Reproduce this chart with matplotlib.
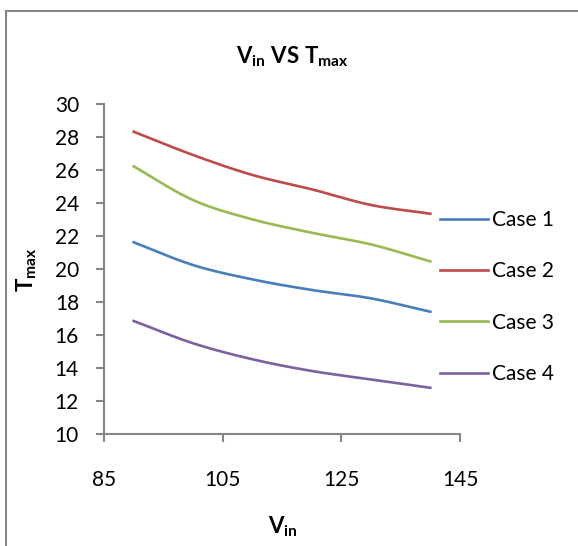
import matplotlib
matplotlib.use('Agg')
import matplotlib.pyplot as plt
from matplotlib.patches import Rectangle
import numpy as np

plt.rcParams['font.family'] = ['Lato', 'DejaVu Sans']
plt.rcParams['mathtext.fontset'] = 'custom'
plt.rcParams['mathtext.rm'] = 'Lato'
plt.rcParams['mathtext.bf'] = 'Lato:bold'

vin = [90, 100, 110, 120, 130, 140]
case1 = [21.62, 20.24, 19.37, 18.73, 18.22, 17.41]
case2 = [28.32, 26.91, 25.70, 24.83, 23.88, 23.35]
case3 = [26.22, 24.18, 23.01, 22.20, 21.49, 20.46]
case4 = [16.85, 15.50, 14.53, 13.82, 13.31, 12.80]
labels = ['Case 1', 'Case 2', 'Case 3', 'Case 4']
colors = ['#4A7EBB', '#BE4B48', '#98B954', '#7D60A0']


def smooth(x, y, n=30):
    # catmull-rom curve through the points, like excel's smoothed line
    x = np.asarray(x, float)
    y = np.asarray(y, float)
    px = np.concatenate([[2 * x[0] - x[1]], x, [2 * x[-1] - x[-2]]])
    py = np.concatenate([[2 * y[0] - y[1]], y, [2 * y[-1] - y[-2]]])
    xs, ys = [], []
    t = np.linspace(0, 1, n)
    for i in range(1, len(px) - 2):
        for p, out in ((px, xs), (py, ys)):
            p0, p1, p2, p3 = p[i - 1], p[i], p[i + 1], p[i + 2]
            out.extend(0.5 * ((2 * p1) + (-p0 + p2) * t
                              + (2 * p0 - 5 * p1 + 4 * p2 - p3) * t ** 2
                              + (-p0 + 3 * p1 - 3 * p2 + p3) * t ** 3))
    return xs, ys


fig = plt.figure(figsize=(5.78, 5.46), dpi=100)
fig.patches.append(Rectangle((6 / 578, -0.1), 1.2, (546 - 11) / 546 + 0.1,
                             transform=fig.transFigure, fill=False,
                             edgecolor='#868686', linewidth=1.5))

ax = fig.add_axes([104 / 578, 112 / 546, 356 / 578, 330 / 546])
for ys, lab, c in zip([case1, case2, case3, case4], labels, colors):
    sx, sy = smooth(vin, ys)
    ax.plot(sx, sy, color=c, linewidth=1.9, label=lab)

ax.set_xlim(85, 145)
ax.set_ylim(10, 30)
ax.set_xticks([85, 105, 125, 145])
ax.set_yticks(range(10, 31, 2))
for s in ['top', 'right']:
    ax.spines[s].set_visible(False)
for s in ['left', 'bottom']:
    ax.spines[s].set_color('#868686')
    ax.spines[s].set_linewidth(1.5)
ax.tick_params(axis='both', colors='#868686', labelcolor='black', labelsize=15,
               length=6, width=1.5, direction='out')
ax.tick_params(axis='x', pad=20)
ax.tick_params(axis='y', pad=12)

fig.text(292 / 578, 1 - 57 / 546, r'$\mathbf{V_{in}}$ $\mathbf{VS}$ $\mathbf{T_{max}}$',
         ha='center', va='center', fontsize=16)
fig.text(27 / 578, 1 - 270 / 546, r'$\mathbf{T_{max}}$', rotation=90,
         ha='center', va='center', fontsize=16)
fig.text(283 / 578, 1 - 527 / 546, r'$\mathbf{V_{in}}$',
         ha='center', va='center', fontsize=16)

ax.legend(loc='center left', bbox_to_anchor=(421 / 578, 1 - 297 / 546),
          bbox_transform=fig.transFigure, frameon=False, fontsize=15,
          handlelength=2.3, handletextpad=0.2, labelspacing=1.5)

fig.savefig('out.png', dpi=100)
